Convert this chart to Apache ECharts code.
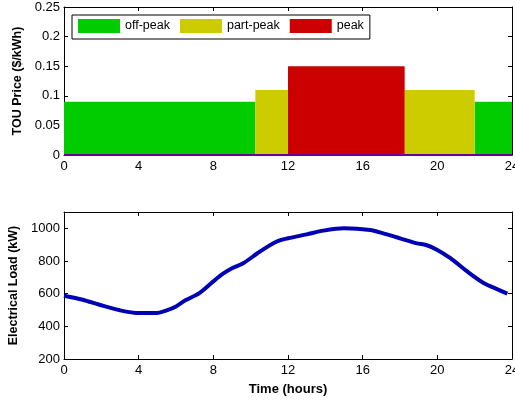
<!DOCTYPE html>
<html>
<head>
<meta charset="utf-8">
<script src="https://cdn.jsdelivr.net/npm/echarts@6/dist/echarts.min.js"></script>
<style>
html,body{margin:0;padding:0;background:#fff;}
#chart{width:515px;height:403px;}
</style>
</head>
<body>
<div id="chart"></div>
<script>
// TOU price blocks
const touStart = [0, 10.25, 12, 18.25, 22];
const touEnd   = [10.25, 12, 18.25, 22, 24];
const touPrice = [0.09, 0.11, 0.15, 0.11, 0.09];
const touType  = ['off-peak', 'part-peak', 'peak', 'part-peak', 'off-peak'];
const touNames = ['off-peak', 'part-peak', 'peak'];
const touColors = ['#00cc00', '#cccc00', '#cc0000'];

// Electrical load profile
const loadHours = [0, 1, 1.9, 3, 4, 4.9, 5.5, 6, 6.5, 7.25, 8, 8.5, 9, 9.6, 10.5, 11.4, 12, 13, 13.9, 15, 16.4, 17.1, 18, 18.9, 19.4, 20, 20.7, 21.6, 22.5, 23.2, 23.75];
const loadValues = [587, 563, 532, 498, 481, 481, 498, 522, 559, 603, 675, 721, 756, 786, 858, 919, 939, 963, 986, 1000, 990, 969, 939, 908, 898, 868, 817, 736, 664, 628, 600];

const xTicks = [0, 4, 8, 12, 16, 20, 24];
const priceTicks = [0, 0.05, 0.1, 0.15, 0.2, 0.25];
const loadTicks = [200, 400, 600, 800, 1000];

const FONT = 'Liberation Sans, Arial, sans-serif';

const chart = echarts.init(document.getElementById('chart'), null, {renderer: 'canvas'});

function xAx(gridIndex, pos, showLabel, name) {
  return {
    type: 'value', gridIndex: gridIndex, position: pos, min: 0, max: 24, interval: 4,
    axisLine: {show: true, onZero: false, lineStyle: {color: '#000', width: 1}},
    axisTick: {show: true, inside: true, length: 4, lineStyle: {color: '#000'}, customValues: xTicks},
    axisLabel: {show: showLabel, color: '#000', fontSize: 13, fontFamily: FONT, margin: 5, customValues: xTicks,
      formatter: v => String(v)},
    splitLine: {show: false},
    name: name || '', nameLocation: 'middle', nameGap: 24,
    nameTextStyle: {color: '#000', fontSize: 13, fontWeight: 'bold', fontFamily: FONT}
  };
}
function yAx(gridIndex, pos, showLabel, min, max, interval, ticks, name) {
  return {
    type: 'value', gridIndex: gridIndex, position: pos, min: min, max: max, interval: interval,
    axisLine: {show: true, onZero: false, lineStyle: {color: '#000', width: 1}},
    axisTick: {show: true, inside: true, length: 4, lineStyle: {color: '#000'}, customValues: ticks},
    axisLabel: {show: showLabel, color: '#000', fontSize: 13, fontFamily: FONT, margin: 4, customValues: ticks,
      formatter: v => String(v)},
    splitLine: {show: false},
    name: name || '', nameLocation: 'middle', nameGap: 36,
    nameTextStyle: {color: '#000', fontSize: 12.5, fontWeight: 'bold', fontFamily: FONT}
  };
}

function touSeries(k) {
  const data = [];
  for (let i = 0; i < touStart.length; i++) {
    if (touType[i] === touNames[k]) data.push([touStart[i], touEnd[i], touPrice[i]]);
  }
  return {
    name: touNames[k], type: 'custom', xAxisIndex: 0, yAxisIndex: 0,
    itemStyle: {color: touColors[k]},
    encode: {x: [0, 1], y: 2},
    renderItem: function (params, api) {
      const p0 = api.coord([api.value(0), 0]);
      const p1 = api.coord([api.value(1), api.value(2)]);
      return {
        type: 'rect',
        shape: {x: p0[0], y: p1[1], width: p1[0] - p0[0], height: p0[1] - p1[1]},
        style: {fill: touColors[k]}
      };
    },
    data: data, z: 2
  };
}

const option = {
  backgroundColor: '#fff',
  animation: false,
  grid: [
    {left: 64, right: 3, top: 7, height: 148, outerBoundsMode: 'none', containLabel: false},
    {left: 64, right: 3, top: 212, height: 147, outerBoundsMode: 'none', containLabel: false}
  ],
  legend: {
    data: touNames.map(n => ({name: n, icon: 'rect'})),
    left: 72, top: 15,
    itemWidth: 42, itemHeight: 14, itemGap: 10,
    padding: [4, 6, 6, 6],
    borderColor: '#000', borderWidth: 1,
    backgroundColor: '#fff',
    textStyle: {color: '#000', fontSize: 12.5, fontFamily: FONT},
    selectedMode: false
  },
  xAxis: [
    xAx(0, 'bottom', true),
    xAx(1, 'bottom', true, 'Time (hours)'),
    xAx(0, 'top', false),
    xAx(1, 'top', false)
  ],
  yAxis: [
    yAx(0, 'left', true, 0, 0.25, 0.05, priceTicks, 'TOU Price ($/kWh)'),
    yAx(1, 'left', true, 200, 1100, 100, loadTicks, 'Electrical Load (kW)'),
    yAx(0, 'right', false, 0, 0.25, 0.05, priceTicks),
    yAx(1, 'right', false, 200, 1100, 100, loadTicks)
  ],
  series: [
    touSeries(0), touSeries(1), touSeries(2),
    {
      type: 'line', xAxisIndex: 0, yAxisIndex: 0, symbol: 'none',
      data: [[0, 0], [24, 0]],
      lineStyle: {color: '#660099', width: 2}, z: 3, silent: true
    },
    {
      type: 'line', xAxisIndex: 1, yAxisIndex: 1, symbol: 'none', smooth: 0.3,
      data: loadHours.map((h, i) => [h, loadValues[i]]),
      lineStyle: {color: '#0000b4', width: 4}, z: 3
    }
  ]
};
chart.setOption(option);
</script>
</body>
</html>
